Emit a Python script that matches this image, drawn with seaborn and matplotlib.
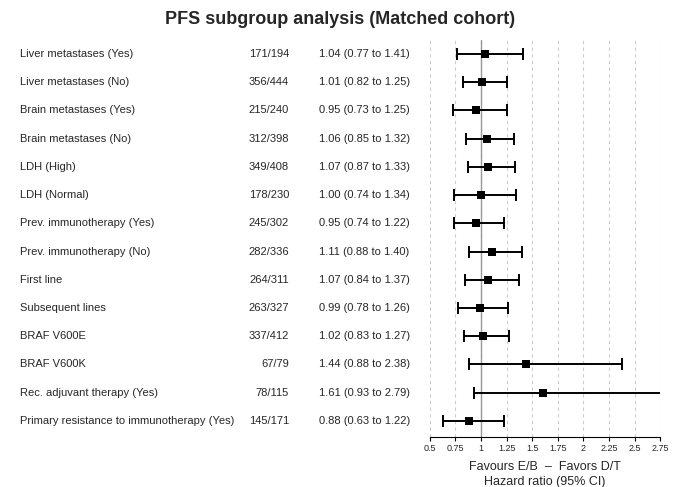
import matplotlib
matplotlib.use("Agg")
import matplotlib.pyplot as plt
import matplotlib.transforms as mtransforms
import seaborn as sns
import pandas as pd
import numpy as np

sns.set_theme(style="white")
plt.rcParams['font.family'] = ['Liberation Sans', 'DejaVu Sans']

# DATA
subgroups = ["Liver metastases (Yes)", "Liver metastases (No)", "Brain metastases (Yes)",
             "Brain metastases (No)", "LDH (High)", "LDH (Normal)",
             "Prev. immunotherapy (Yes)", "Prev. immunotherapy (No)", "First line",
             "Subsequent lines", "BRAF V600E", "BRAF V600K",
             "Rec. adjuvant therapy (Yes)", "Primary resistance to immunotherapy (Yes)"]
events = ["171/194", "356/444", "215/240", "312/398", "349/408", "178/230", "245/302",
          "282/336", "264/311", "263/327", "337/412", "67/79", "78/115", "145/171"]
hr = [1.04, 1.01, 0.95, 1.06, 1.07, 1.00, 0.95, 1.11, 1.07, 0.99, 1.02, 1.44, 1.61, 0.88]
ci_lo = [0.77, 0.82, 0.73, 0.85, 0.87, 0.74, 0.74, 0.88, 0.84, 0.78, 0.83, 0.88, 0.93, 0.63]
ci_hi = [1.41, 1.25, 1.25, 1.32, 1.33, 1.34, 1.22, 1.40, 1.37, 1.26, 1.27, 2.38, 2.79, 1.22]
xticks = [0.5, 0.75, 1, 1.25, 1.5, 1.75, 2, 2.25, 2.5, 2.75]

df = pd.DataFrame({"subgroup": subgroups, "events": events, "hr": hr,
                   "lo": ci_lo, "hi": ci_hi})
df["row"] = np.arange(len(df))

fig = plt.figure(figsize=(6.8, 4.87), dpi=100)
ax = fig.add_axes([0.632, 0.103, 0.339, 0.815])

for t in xticks:
    ax.axvline(t, color="#cccccc", linestyle=(0, (3, 3)), linewidth=0.8, zorder=0)
ax.axvline(1, color="#999999", linewidth=1.0, zorder=1)

ax.errorbar(df["hr"], df["row"],
            xerr=[df["hr"] - df["lo"], df["hi"] - df["hr"]],
            fmt="none", ecolor="black", elinewidth=1.4, capsize=4, capthick=1.4, zorder=2)
sns.scatterplot(data=df, x="hr", y="row", marker="s", color="black", s=40,
                edgecolor="black", linewidth=0, ax=ax, zorder=3)

ax.set_xlim(0.5, 2.75)
ax.set_ylim(13.57, -0.5)
ax.set_xticks(xticks)
ax.set_xticklabels([f"{t:g}" for t in xticks], fontsize=6.5)
ax.set_yticks([])
ax.set_ylabel("")
ax.set_xlabel("Favours E/B  \u2013  Favors D/T\nHazard ratio (95% CI)", fontsize=9,
              linespacing=1.3, labelpad=6)
for s in ["top", "right", "left"]:
    ax.spines[s].set_visible(False)
ax.spines["bottom"].set_color("black")
ax.spines["bottom"].set_linewidth(0.8)
ax.tick_params(axis="x", length=3, width=0.8, color="black", bottom=True, pad=2)

trans = mtransforms.blended_transform_factory(fig.transFigure, ax.transData)
for i, r in df.iterrows():
    ax.text(20 / 680, r["row"], r["subgroup"], transform=trans, fontsize=8,
            va="center", ha="left")
    ax.text(289 / 680, r["row"], r["events"], transform=trans, fontsize=8,
            va="center", ha="right")
    ax.text(319 / 680, r["row"], f"{r['hr']:.2f} ({r['lo']:.2f} to {r['hi']:.2f})",
            transform=trans, fontsize=8, va="center", ha="left")

fig.text(0.5, 1 - 20 / 487, "PFS subgroup analysis (Matched cohort)", fontsize=13,
         fontweight="bold", ha="center", va="center")

fig.savefig("out.png", dpi=100)
